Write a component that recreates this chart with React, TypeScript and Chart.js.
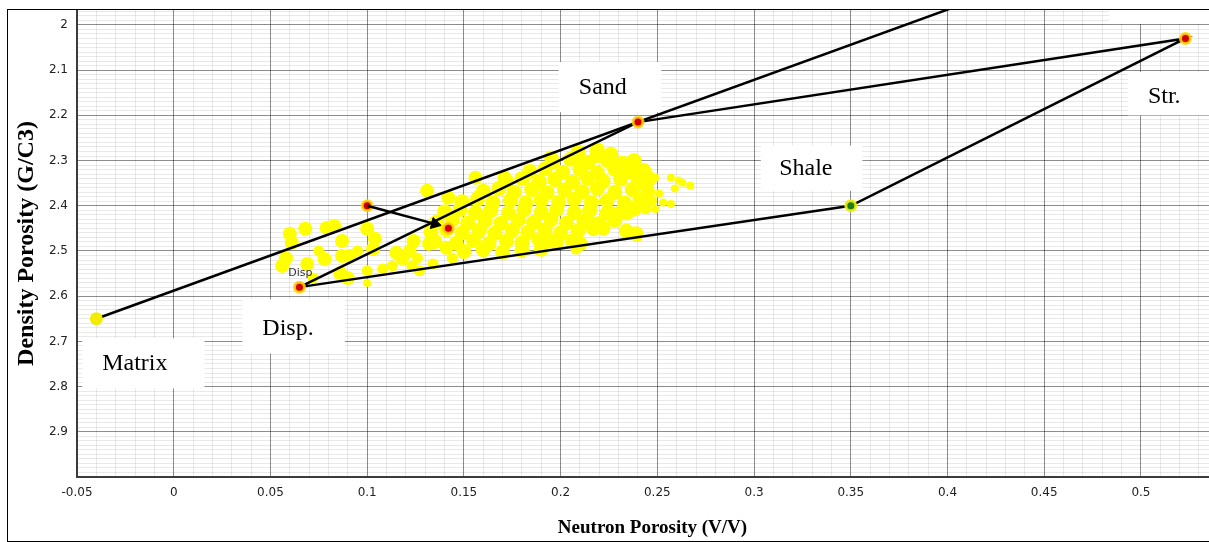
import { useEffect, useRef } from 'react';
import { Chart, registerables } from 'chart.js';

Chart.register(...registerables);

// ---- axes ----
const X_MIN = -0.05;
const X_MAX = 0.545;
const Y_MIN = 1.967;
const Y_MAX = 3.0;
const xMajorTicks = [-0.05, 0, 0.05, 0.1, 0.15, 0.2, 0.25, 0.3, 0.35, 0.4, 0.45, 0.5];
const xTickLabels = ['-0.05', '0', '0.05', '0.1', '0.15', '0.2', '0.25', '0.3', '0.35', '0.4', '0.45', '0.5'];
const yMajorTicks = [2, 2.1, 2.2, 2.3, 2.4, 2.5, 2.6, 2.7, 2.8, 2.9];
const yTickLabels = ['2', '2.1', '2.2', '2.3', '2.4', '2.5', '2.6', '2.7', '2.8', '2.9'];

// ---- end points (Matrix, Disp., Sand, Shale, Str.) ----
const endpointNames = ['Matrix', 'Disp.', 'Sand', 'Shale', 'Str.'];
const endpointX = [-0.04, 0.065, 0.24, 0.35, 0.523];
const endpointY = [2.65, 2.58, 2.215, 2.4, 2.03];

// Matrix line running through Sand up past the top of the plot
const matrixLineX = [-0.04, 0.42];
const matrixLineY = [2.65, 1.935];

// Disp. -> Sand -> Str. -> Shale -> Disp.
const polygonX = [0.065, 0.24, 0.523, 0.35, 0.065];
const polygonY = [2.58, 2.215, 2.03, 2.4, 2.58];

// shift arrow
const arrowX = [0.1, 0.135];
const arrowY = [2.4, 2.44];
const samplePointX = [0.1, 0.142];
const samplePointY = [2.4, 2.45];

// ---- yellow data cloud (neutron, density) ----
const bigDots: number[][] = [
  [0.060, 2.462], [0.061, 2.482], [0.068, 2.451], [0.079, 2.449], [0.083, 2.444], [0.058, 2.516],
  [0.056, 2.533], [0.069, 2.529], [0.078, 2.518], [0.087, 2.478], [0.087, 2.511], [0.091, 2.511],
  [0.086, 2.549], [0.090, 2.560], [0.100, 2.451], [0.104, 2.473], [0.103, 2.496], [0.115, 2.504],
  [0.118, 2.516], [0.122, 2.500], [0.124, 2.478], [0.131, 2.367], [0.142, 2.382], [0.156, 2.338],
  [0.171, 2.338], [0.132, 2.484], [0.141, 2.493], [0.195, 2.293], [0.208, 2.296],
];
const denseDots: number[][] = [
  [0.209, 2.281], [0.219, 2.276], [0.226, 2.286],
  [0.196, 2.302], [0.205, 2.297], [0.214, 2.304], [0.224, 2.299], [0.232, 2.306], [0.238, 2.300],
  [0.184, 2.324], [0.192, 2.318], [0.201, 2.326], [0.210, 2.320], [0.219, 2.327], [0.228, 2.319], [0.236, 2.325], [0.243, 2.322],
  [0.172, 2.346], [0.180, 2.340], [0.189, 2.347], [0.197, 2.342], [0.206, 2.348], [0.214, 2.339], [0.222, 2.346], [0.231, 2.341], [0.240, 2.348], [0.246, 2.340],
  [0.160, 2.368], [0.168, 2.362], [0.176, 2.370], [0.185, 2.364], [0.193, 2.371], [0.202, 2.365], [0.211, 2.369], [0.219, 2.362], [0.228, 2.370], [0.237, 2.364], [0.245, 2.369],
  [0.149, 2.391], [0.157, 2.386], [0.165, 2.393], [0.174, 2.388], [0.182, 2.394], [0.190, 2.387], [0.199, 2.392], [0.207, 2.386], [0.216, 2.393], [0.224, 2.389], [0.233, 2.394], [0.241, 2.387],
  [0.140, 2.413], [0.148, 2.408], [0.156, 2.415], [0.164, 2.410], [0.173, 2.416], [0.181, 2.409], [0.190, 2.414], [0.198, 2.408], [0.207, 2.415], [0.215, 2.410], [0.224, 2.416], [0.232, 2.411], [0.238, 2.407],
  [0.136, 2.436], [0.144, 2.431], [0.152, 2.438], [0.161, 2.433], [0.169, 2.439], [0.178, 2.432], [0.186, 2.437], [0.195, 2.431], [0.203, 2.438], [0.212, 2.434], [0.220, 2.439], [0.228, 2.432],
  [0.133, 2.458], [0.141, 2.453], [0.149, 2.460], [0.158, 2.455], [0.166, 2.461], [0.175, 2.454], [0.183, 2.459], [0.192, 2.453], [0.200, 2.460], [0.209, 2.456], [0.217, 2.451],
  [0.135, 2.479], [0.146, 2.483], [0.155, 2.477], [0.163, 2.484], [0.172, 2.478], [0.180, 2.482], [0.189, 2.476], [0.198, 2.481], [0.206, 2.478],
  [0.150, 2.501], [0.160, 2.497], [0.170, 2.503], [0.180, 2.499], [0.190, 2.496],
  [0.196, 2.478], [0.210, 2.484], [0.216, 2.440], [0.222, 2.449], [0.234, 2.456], [0.239, 2.462], [0.234, 2.416], [0.227, 2.418],
  [0.219, 2.289], [0.226, 2.304],
];
const midDots: number[][] = [
  [0.072, 2.560], [0.075, 2.500], [0.095, 2.500], [0.100, 2.544], [0.108, 2.540], [0.113, 2.533],
  [0.157, 2.378], [0.126, 2.516], [0.144, 2.516], [0.134, 2.529], [0.123, 2.533], [0.127, 2.544],
  [0.245, 2.351], [0.239, 2.327], [0.231, 2.311], [0.247, 2.389], [0.244, 2.407], [0.208, 2.496],
];
const smallDots: number[][] = [
  [0.100, 2.571], [0.249, 2.338], [0.257, 2.338], [0.261, 2.344], [0.263, 2.349], [0.267, 2.356],
  [0.259, 2.362], [0.251, 2.373], [0.253, 2.393], [0.257, 2.396], [0.249, 2.407], [0.240, 2.470],
];

// ---- text boxes (data units) ----
const labelBoxes = [
  { text: 'Matrix', x0: -0.0473, x1: 0.0159, y0: 2.693, y1: 2.804, tx: -0.037, ty: 2.749 },
  { text: 'Disp.', x0: 0.0355, x1: 0.0885, y0: 2.607, y1: 2.727, tx: 0.0458, ty: 2.671 },
  { text: 'Sand', x0: 0.199, x1: 0.252, y0: 2.082, y1: 2.193, tx: 0.2094, ty: 2.138 },
  { text: 'Shale', x0: 0.3035, x1: 0.356, y0: 2.267, y1: 2.367, tx: 0.313, ty: 2.318 },
  { text: 'Str.', x0: 0.4933, x1: 0.56, y0: 2.104, y1: 2.2, tx: 0.5036, ty: 2.158 },
  { text: '', x0: 0.4835, x1: 0.56, y0: 1.95, y1: 1.998, tx: 0, ty: 0 },
];
const dispTag = { text: 'Disp', x: 0.0592, y: 2.549 };

const xGridValues: number[] = [];
for (let i = -5; i <= 54; i++) xGridValues.push(i / 100);
const yGridValues: number[] = [];
for (let i = 197; i <= 300; i++) yGridValues.push(i / 100);

const isMajorX = (v: number) => xMajorTicks.some((t) => Math.round(t * 100) === Math.round(v * 100));
const isMajorY = (v: number) => yMajorTicks.some((t) => Math.round(t * 100) === Math.round(v * 100));
const MAJOR_GRID = 'rgba(0,0,0,0.45)';
const MINOR_GRID = 'rgba(0,0,0,0.085)';

const toPts = (a: number[][]) => a.map(([x, y]) => ({ x, y }));
const zip = (xs: number[], ys: number[]) => xs.map((x, i) => ({ x, y: ys[i] }));

const labelPlugin = {
  id: 'labelBoxes',
  beforeDatasetsDraw(chart: any) {
    const { ctx, scales } = chart;
    const xs = scales.x;
    const ys = scales.y;
    ctx.save();
    labelBoxes.forEach((b) => {
      const l = xs.getPixelForValue(b.x0);
      const r = xs.getPixelForValue(b.x1);
      const t = ys.getPixelForValue(b.y0);
      const bt = ys.getPixelForValue(b.y1);
      ctx.fillStyle = '#ffffff';
      ctx.fillRect(l, t, r - l, bt - t);
    });
    ctx.restore();
  },
  afterDatasetsDraw(chart: any) {
    const { ctx, scales } = chart;
    const xs = scales.x;
    const ys = scales.y;
    ctx.save();
    ctx.fillStyle = '#000';
    ctx.textAlign = 'left';
    ctx.textBaseline = 'middle';
    ctx.font = '24px "Liberation Serif", "Times New Roman", serif';
    labelBoxes.forEach((b) => {
      if (!b.text) return;
      ctx.fillText(b.text, xs.getPixelForValue(b.tx), ys.getPixelForValue(b.ty));
    });
    ctx.font = '11px "DejaVu Sans", sans-serif';
    ctx.fillStyle = '#333';
    ctx.fillText(dispTag.text, xs.getPixelForValue(dispTag.x), ys.getPixelForValue(dispTag.y));
    ctx.restore();
  },
};

const dotDataset = (label: string, pts: number[][], r: number) => ({
  label,
  data: toPts(pts),
  pointRadius: r,
  pointBackgroundColor: '#ffff00',
  pointBorderWidth: 0,
  order: 10,
});

export default function App() {
  const ref = useRef<HTMLCanvasElement | null>(null);

  useEffect(() => {
    if (!ref.current) return;
    const chart = new Chart(ref.current, {
      type: 'scatter',
      data: {
        datasets: [
          {
            label: 'arrow',
            data: zip(arrowX, arrowY),
            showLine: true,
            borderColor: '#000',
            borderWidth: 2.5,
            pointRadius: [0, 6.5] as any,
            pointStyle: 'triangle',
            rotation: 104,
            pointBackgroundColor: '#000',
            pointBorderColor: '#000',
            pointBorderWidth: 1,
            order: 0,
          } as any,
          {
            label: 'Disp., Sand, Str.',
            data: [1, 2, 4].map((i) => ({ x: endpointX[i], y: endpointY[i] })),
            pointRadius: 5,
            pointBackgroundColor: '#d40000',
            pointBorderColor: 'rgba(255,215,0,0.85)',
            pointBorderWidth: 3,
            order: 1,
          },
          {
            label: 'samples',
            data: zip(samplePointX, samplePointY),
            pointRadius: 5,
            pointBackgroundColor: '#d40000',
            pointBorderColor: 'rgba(255,215,0,0.85)',
            pointBorderWidth: 3,
            order: 1,
          },
          {
            label: endpointNames[3],
            data: [{ x: endpointX[3], y: endpointY[3] }],
            pointRadius: 5,
            pointBackgroundColor: '#1e7a1e',
            pointBorderColor: 'rgba(240,240,0,0.9)',
            pointBorderWidth: 3,
            order: 1,
          },
          {
            label: endpointNames[0],
            data: [{ x: endpointX[0], y: endpointY[0] }],
            pointRadius: 6.5,
            pointBackgroundColor: '#f2ec00',
            pointBorderColor: '#f2ec00',
            pointBorderWidth: 0,
            order: 1,
          },
          {
            label: 'matrix line',
            data: zip(matrixLineX, matrixLineY),
            showLine: true,
            borderColor: '#000',
            borderWidth: 2.5,
            pointRadius: 0,
            order: 5,
          },
          {
            label: 'triangle',
            data: zip(polygonX, polygonY),
            showLine: true,
            borderColor: '#000',
            borderWidth: 2.5,
            pointRadius: 0,
            order: 5,
          },
          dotDataset('big', bigDots, 7),
          dotDataset('dense', denseDots, 7.5),
          dotDataset('mid', midDots, 5.5),
          dotDataset('small', smallDots, 4),
        ],
      },
      options: {
        responsive: false,
        animation: false,
        devicePixelRatio: 1,
        layout: { padding: { left: 0, top: 10, right: 24, bottom: 0 } },
        plugins: { legend: { display: false }, tooltip: { enabled: false } },
        elements: { line: { tension: 0 } },
        scales: {
          x: {
            type: 'linear',
            min: X_MIN,
            max: X_MAX,
            afterBuildTicks: (s: any) => {
              s.ticks = xGridValues.map((v) => ({ value: v }));
            },
            afterFit: (s: any) => {
              s.height = 65;
              s.paddingLeft = 0;
              s.paddingRight = 0;
            },
            grid: {
              drawTicks: false,
              color: (c: any) => (c.tick && isMajorX(c.tick.value) ? MAJOR_GRID : MINOR_GRID),
              lineWidth: 1,
            },
            border: { display: true, color: '#3c3c3c', width: 2 },
            ticks: {
              autoSkip: false,
              maxRotation: 0,
              padding: 9,
              color: '#222',
              font: { family: '"DejaVu Sans", sans-serif', size: 12 },
              callback: (v: any) => {
                const idx = xMajorTicks.findIndex((t) => Math.round(t * 100) === Math.round(Number(v) * 100));
                return idx >= 0 ? xTickLabels[idx] : '';
              },
            },
            title: {
              display: true,
              text: 'Neutron Porosity (V/V)',
              color: '#000',
              font: { family: '"Liberation Serif", "Times New Roman", serif', size: 19, weight: 'bold' },
              padding: { top: 0, bottom: 3 },
            },
          },
          y: {
            type: 'linear',
            reverse: true,
            min: Y_MIN,
            max: Y_MAX,
            afterBuildTicks: (s: any) => {
              s.ticks = yGridValues.map((v) => ({ value: v }));
            },
            afterFit: (s: any) => {
              s.width = 77;
              s.paddingTop = 0;
              s.paddingBottom = 0;
            },
            grid: {
              drawTicks: false,
              color: (c: any) => (c.tick && isMajorY(c.tick.value) ? MAJOR_GRID : MINOR_GRID),
              lineWidth: 1,
            },
            border: { display: true, color: '#3c3c3c', width: 2 },
            ticks: {
              autoSkip: false,
              padding: 9,
              color: '#222',
              font: { family: '"DejaVu Sans", sans-serif', size: 12 },
              callback: (v: any) => {
                const idx = yMajorTicks.findIndex((t) => Math.round(t * 100) === Math.round(Number(v) * 100));
                return idx >= 0 ? yTickLabels[idx] : '';
              },
            },
            title: {
              display: true,
              text: 'Density Porosity (G/C3)',
              color: '#000',
              font: { family: '"Liberation Serif", "Times New Roman", serif', size: 24, weight: 'bold' },
              padding: { top: 12, bottom: 0 },
            },
          },
        },
      } as any,
      plugins: [labelPlugin],
    });
    return () => chart.destroy();
  }, []);

  return (
    <div style={{ position: 'fixed', left: 0, top: 0, width: 1209, height: 542, overflow: 'hidden', background: '#fff' }}>
      <canvas ref={ref} width={1252} height={542} style={{ position: 'absolute', left: 0, top: 0, width: 1252, height: 542 }} />
      <div
        style={{
          position: 'absolute',
          left: 7,
          top: 9,
          width: 1260,
          height: 533,
          border: '1px solid #000',
          boxSizing: 'border-box',
          pointerEvents: 'none',
        }}
      />
    </div>
  );
}
